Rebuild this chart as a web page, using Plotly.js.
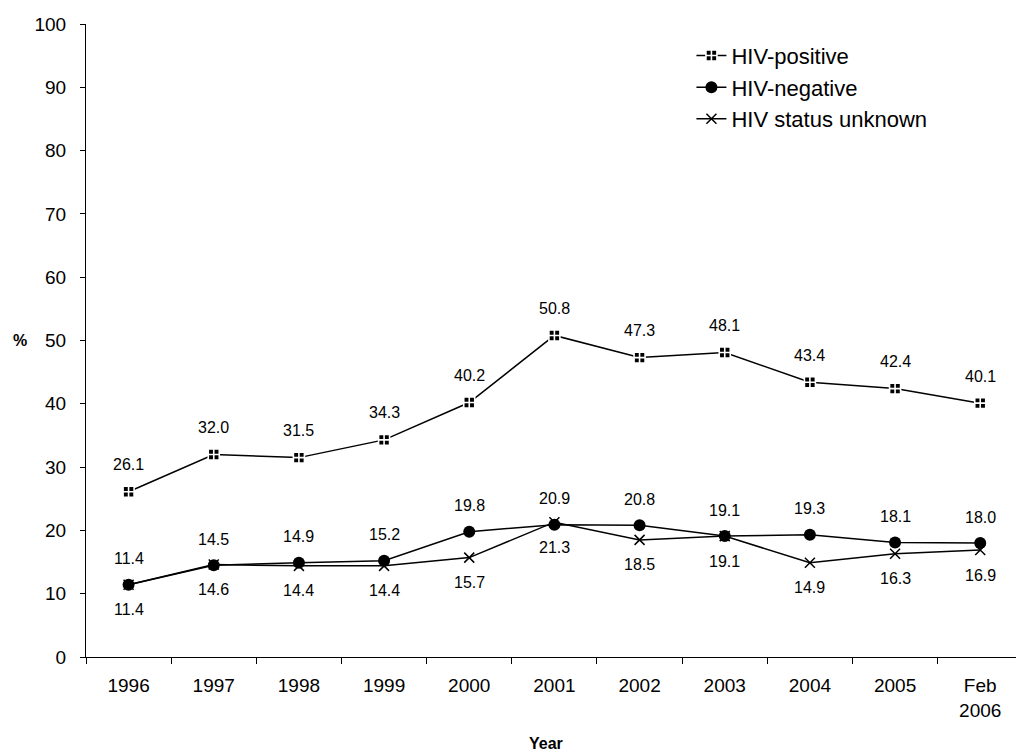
<!DOCTYPE html>
<html><head><meta charset="utf-8">
<script src="https://cdn.plot.ly/plotly-3.0.1.min.js"></script>
<style>html,body{margin:0;padding:0;background:#fff;overflow:hidden}</style>
</head><body>
<div id="chart" style="width:1016px;height:754px"></div>
<script>
const years = ["1996","1997","1998","1999","2000","2001","2002","2003","2004","2005","Feb<br>2006"];
const hivPositive = [26.1, 32.0, 31.5, 34.3, 40.2, 50.8, 47.3, 48.1, 43.4, 42.4, 40.1];
const hivNegative = [11.4, 14.5, 14.9, 15.2, 19.8, 20.9, 20.8, 19.1, 19.3, 18.1, 18.0];
const hivUnknown  = [11.4, 14.6, 14.4, 14.4, 15.7, 21.3, 18.5, 19.1, 14.9, 16.3, 16.9];
const yTicks = [0,10,20,30,40,50,60,70,80,90,100];

const FONT = "Arial, 'Liberation Sans', sans-serif";
const lineStyle = {color:'#000', width:1.5};

const traces = [
  {x: years, y: hivPositive, name: 'HIV-positive', mode: 'lines+markers', type: 'scatter',
   line: lineStyle, marker: {symbol: 'square-cross', size: 11, color: '#000', line: {color: '#fff', width: 1.6}}},
  {x: years, y: hivNegative, name: 'HIV-negative', mode: 'lines+markers', type: 'scatter',
   line: lineStyle, marker: {symbol: 'circle', size: 12, color: '#000'}},
  {x: years, y: hivUnknown, name: 'HIV status unknown', mode: 'lines+markers', type: 'scatter',
   line: lineStyle, marker: {symbol: 'x-thin-open', size: 10, color: '#000', line: {color: '#000', width: 1.5}}}
];

const annotations = [];
function addLabels(vals, shift) {
  vals.forEach((v, i) => annotations.push({
    x: i, y: v, xref: 'x', yref: 'y', text: v.toFixed(1), showarrow: false,
    yshift: shift, font: {family: FONT, size: 16, color: '#000'}
  }));
}
addLabels(hivPositive, 27);
addLabels(hivNegative, 26);
addLabels(hivUnknown, -25);
annotations.push({xref: 'paper', yref: 'paper', x: -0.071, y: 0.5, xanchor: 'center', yanchor: 'middle',
  text: '<b>%</b>', showarrow: false, font: {family: FONT, size: 16, color: '#000'}});
annotations.push({xref: 'paper', yref: 'paper', x: 0.495, y: -0.137, xanchor: 'center', yanchor: 'middle',
  text: '<b>Year</b>', showarrow: false, font: {family: FONT, size: 16, color: '#000'}});

const layout = {
  width: 1016, height: 754,
  margin: {l: 86, r: 0, t: 24, b: 97},
  paper_bgcolor: '#fff', plot_bgcolor: '#fff',
  font: {family: FONT, color: '#000'},
  showlegend: true,
  legend: {x: 0.651, y: 0.983, xanchor: 'left', yanchor: 'top', bgcolor: 'rgba(0,0,0,0)',
           font: {family: FONT, size: 22, color: '#000'}, tracegroupgap: 0, itemwidth: 30},
  xaxis: {type: 'category', range: [-0.5, 10.42], showgrid: false, zeroline: false,
          showline: true, linecolor: '#000', linewidth: 1,
          ticks: 'outside', tickson: 'boundaries', ticklen: 6, tickcolor: '#000', tickwidth: 1,
          tickfont: {family: FONT, size: 19, color: '#000'}, ticklabelstandoff: 11},
  yaxis: {range: [0, 100], tickvals: yTicks, showgrid: false, zeroline: false,
          showline: true, linecolor: '#000', linewidth: 1,
          ticks: 'outside', ticklen: 5, tickcolor: '#000', tickwidth: 1,
          tickfont: {family: FONT, size: 19, color: '#000'}, ticklabelstandoff: 10},
  annotations: annotations
};

Plotly.newPlot('chart', traces, layout, {displayModeBar: false, staticPlot: true});
</script>
</body></html>
